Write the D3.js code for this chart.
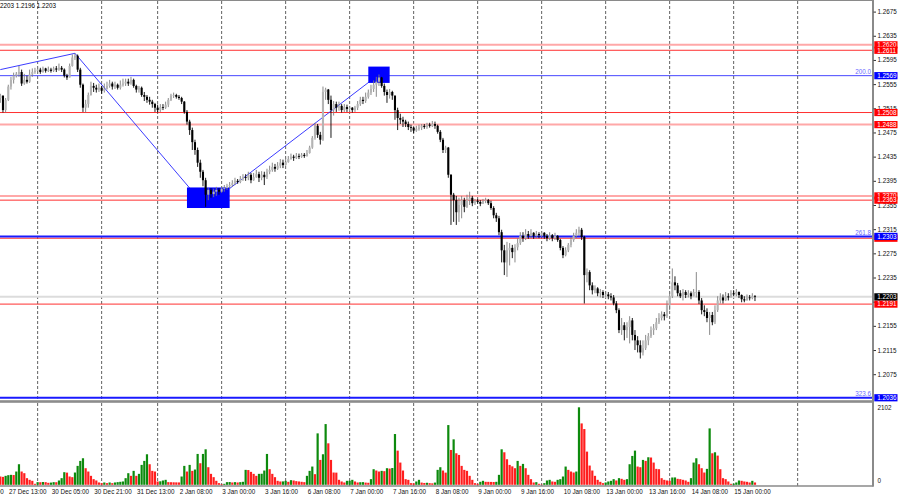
<!DOCTYPE html>
<html><head><meta charset="utf-8">
<script src="https://cdn.jsdelivr.net/npm/d3@7"></script>
<style>
html,body{margin:0;padding:0;background:#fff;}
svg{display:block;font-family:"Liberation Sans",Arial,sans-serif;}
</style></head><body>
<svg id="c" width="900" height="500"></svg>
<script>
// ---------------- DATA (EURUSD H1, prices = 1.2 + pips/10000) ----------------
const PRICE_BASE = 1.2, PIP = 0.0001;
const FIRST_INDEX = -3;          // bar index of the first candle (27 Dec 13:00 = 0)
const firstOpenPips = 532;
const highPips = [539,536,532,
554,567,574,575,585,579,572,569,579,581,
582,584,582,584,582,584,582,584,585,589,
585,581,572,589,604,606,604,582,556,529,
541,559,557,554,556,552,556,559,562,559,
559,556,561,564,564,564,567,564,554,552,
551,542,537,534,529,524,521,522,522,526,
532,539,541,539,537,534,527,512,496,483,
463,450,430,413,400,383,383,382,385,383,
386,388,390,393,396,400,398,403,406,406,
410,408,408,413,410,411,410,415,420,425,
423,426,431,430,433,436,440,438,441,440,
441,441,446,453,469,491,489,476,551,549,
547,536,527,526,526,522,522,521,519,517,
519,527,534,534,541,546,554,561,567,571,
567,556,546,547,544,536,516,506,501,496,
493,488,484,486,488,489,489,491,491,494,
493,488,479,466,453,451,406,375,370,367,
370,367,372,377,370,365,365,363,365,367,
365,362,353,342,337,314,289,294,292,289,
290,300,310,310,315,312,315,310,312,310,
312,310,307,310,307,309,305,299,287,285,
292,302,309,315,319,317,304,250,247,227,
222,219,216,214,212,211,209,206,196,184,
168,161,161,171,168,148,138,131,131,140,
143,154,158,168,176,179,178,197,211,250,
237,226,214,216,214,214,212,216,244,214,
201,189,184,178,178,189,204,209,207,211,
209,214,214,216,212,207,204,207,206,209,
206];
const lowPips = [524,508,508,
527,546,556,566,567,552,554,556,557,567,
572,572,572,574,574,575,574,575,575,577,
575,566,562,566,584,595,575,549,509,508,
516,536,542,541,542,539,541,546,549,546,
547,546,546,551,552,552,554,549,541,541,
534,527,524,521,516,509,508,509,512,514,
517,527,532,531,529,522,506,488,471,446,
438,418,400,386,352,363,367,368,370,372,
375,377,380,382,385,388,390,391,395,395,
396,391,395,400,393,396,388,398,406,410,
410,413,416,416,420,425,430,428,431,431,
433,433,435,440,448,463,466,455,461,529,
522,466,503,509,511,508,509,509,509,508,
509,512,519,522,524,531,537,542,534,552,
549,536,524,531,529,496,479,489,484,484,
479,476,474,476,478,479,481,481,483,484,
481,473,459,441,441,400,322,327,322,327,
333,343,350,355,353,355,357,353,357,358,
355,347,333,327,305,260,239,236,255,267,
260,280,289,294,297,299,300,299,300,300,
302,299,295,297,295,297,294,280,267,270,
277,285,294,300,304,297,192,227,214,207,
209,204,202,201,202,199,197,189,176,143,
140,131,135,126,131,115,111,101,106,115,
123,135,140,148,158,164,164,168,181,201,
214,204,201,197,201,202,199,204,202,191,
174,171,161,140,156,158,178,192,192,196,
197,202,204,204,201,194,194,197,197,199,
196];
const closePips = [536,512,529,
551,562,569,572,575,556,562,559,571,575,
577,579,575,581,577,579,577,581,579,582,
579,569,566,585,599,602,579,554,516,522,
537,552,549,546,549,544,547,552,556,551,
554,549,554,556,559,556,562,552,546,549,
537,534,529,526,522,516,512,517,516,521,
529,536,537,534,532,526,509,493,479,459,
446,425,410,396,372,380,373,377,380,377,
382,383,386,388,391,395,393,398,401,400,
405,396,401,406,400,405,401,410,413,418,
415,420,425,421,426,431,435,433,436,435,
438,436,441,450,466,486,471,463,542,546,
529,512,522,516,519,512,517,514,516,512,
516,522,529,527,534,541,547,554,559,566,
552,542,537,542,536,512,499,496,493,489,
484,483,478,481,483,486,484,488,486,489,
486,476,463,446,450,405,372,363,343,355,
363,352,363,367,358,362,360,357,362,363,
358,350,338,333,310,280,260,280,284,277,
285,292,304,300,307,304,309,304,307,305,
309,304,300,305,300,304,297,284,272,280,
289,297,304,309,314,302,239,244,222,214,
217,209,211,206,207,204,202,192,181,148,
156,148,153,164,140,131,123,111,118,131,
138,148,151,161,168,174,171,189,204,227,
222,209,204,211,206,209,204,211,211,197,
181,178,168,173,161,181,197,202,197,204,
202,209,207,211,206,199,197,202,201,204,
203];
const volumes = [225,215,243,
261,270,265,360,558,360,315,180,135,108,
27,72,70,75,72,54,60,72,70,117,
180,342,330,225,207,333,513,648,720,450,
360,243,153,117,63,45,63,45,63,45,
63,72,81,90,180,315,243,378,243,297,
540,648,828,558,378,360,90,95,117,135,
72,70,68,66,64,225,513,360,540,378,
414,837,585,837,963,477,297,207,108,45,
18,27,72,75,63,72,63,72,81,405,
400,351,297,243,297,300,387,837,423,297,
207,108,90,92,108,81,126,117,99,90,
81,72,243,378,495,288,1395,675,828,1647,
1125,675,333,330,135,90,63,108,110,135,
90,63,70,72,60,55,153,423,387,360,
378,370,450,440,455,1377,927,603,387,153,
135,45,40,90,135,60,50,55,45,40,
60,405,477,387,330,1620,945,1233,855,810,
513,405,378,243,135,45,27,81,108,81,
80,78,76,81,270,963,882,693,540,500,
450,648,513,567,450,270,153,63,72,27,
9,45,117,135,90,81,135,153,225,495,
405,360,333,360,2102,1665,1512,900,522,387,
243,135,81,45,63,90,108,153,117,180,
162,135,153,558,783,927,495,477,675,648,
747,740,603,432,423,180,135,117,108,198,
200,162,153,135,117,81,180,603,720,558,
450,333,432,1530,855,882,792,423,180,153,
90,27,30,63,117,108,90,81,63,108,
63];
const volumeMax = 2102;

const timeLabels = ["26 Dec 21:00","27 Dec 13:00","30 Dec 05:00","30 Dec 21:00","31 Dec 13:00",
  "2 Jan 08:00","3 Jan 00:00","3 Jan 16:00","6 Jan 08:00","7 Jan 00:00","7 Jan 16:00",
  "8 Jan 08:00","9 Jan 00:00","9 Jan 16:00","10 Jan 08:00","13 Jan 00:00","13 Jan 16:00",
  "14 Jan 08:00","15 Jan 00:00"];
const timeLabelFirstIndex = -16, timeLabelStep = 16;
const dayStartIndices = [11,35,56,80,104,128,152,176,200,224,248,272,296];

const priceTicks = [1.2675,1.2635,1.2595,1.2555,1.2515,1.2475,1.2435,1.2395,1.2355,
  1.2315,1.2275,1.2235,1.2195,1.2155,1.2115,1.2075];

const pinkLevels = [1.2620, 1.2488, 1.2370];
const redLevels  = [1.2611, 1.2508, 1.2363, 1.2300, 1.2191];
const fiboLevels = [1.2569, 1.2303, 1.2036];
const fiboNames  = ["200.0", "261.8", "323.6"];
const fiboWidths = [1, 2, 2];
const currentPrice = 1.2203;
const headerText = "1.2203 1.2196 1.2203";

const zigzagIndex = [-3, 25, 74, 139];
const zigzagPrice = [1.2579, 1.2606, 1.2352, 1.2571];
const boxIndex1 = [67, 135], boxIndex2 = [83, 143];
const boxPriceTop = [1.2384, 1.2584], boxPriceBottom = [1.2350, 1.2557];

// ---------------- CHART ----------------
const toPrice = p => PRICE_BASE + p * PIP;
const svg = d3.select("#c");
const font = 6.3;
const PLOT_R = 872.5;

const x = d3.scaleLinear().domain([0, 296]).range([8.3, 797.65]);
const y = d3.scaleLinear().domain([1.2075, 1.2675]).range([374.2, 11.6]);
const yv = d3.scaleLinear().domain([0, volumeMax]).range([484.8, 407.3]);

const defs = svg.append("defs");
defs.append("clipPath").attr("id","mainClip").append("rect")
  .attr("x",0).attr("y",1).attr("width",PLOT_R).attr("height",399);
defs.append("clipPath").attr("id","volClip").append("rect")
  .attr("x",0).attr("y",403).attr("width",PLOT_R).attr("height",83);

const main = svg.append("g").attr("clip-path","url(#mainClip)");
const vol = svg.append("g").attr("clip-path","url(#volClip)");

// vertical dashed grid
[[main,1,400],[vol,403,486]].forEach(([g,y0,y1]) => {
  g.selectAll(null).data(dayStartIndices).join("line")
    .attr("x1",d=>x(d)).attr("x2",d=>x(d)).attr("y1",y0).attr("y2",y1)
    .attr("stroke","#3a3a3a").attr("stroke-width",0.8).attr("stroke-dasharray","3,2");
});

// horizontal levels
main.append("line").attr("x1",0).attr("x2",PLOT_R)
  .attr("y1",y(currentPrice)).attr("y2",y(currentPrice))
  .attr("stroke","#dcdcdc").attr("stroke-width",2);
main.selectAll(null).data(pinkLevels).join("line")
  .attr("x1",0).attr("x2",PLOT_R).attr("y1",d=>y(d)).attr("y2",d=>y(d))
  .attr("stroke","#ffa8a8").attr("stroke-width",2);
main.selectAll(null).data(redLevels).join("line")
  .attr("x1",0).attr("x2",PLOT_R).attr("y1",d=>y(d)).attr("y2",d=>y(d))
  .attr("stroke","#ff3030").attr("stroke-width",1);
main.selectAll(null).data(fiboLevels).join("line")
  .attr("x1",0).attr("x2",PLOT_R).attr("y1",d=>y(d)).attr("y2",d=>y(d))
  .attr("stroke",(d,i)=> i===0 ? "#4646ff" : "#1a1aff").attr("stroke-width",(d,i)=>fiboWidths[i]);
main.selectAll(null).data(fiboLevels).join("text")
  .attr("x",871).attr("y",d=>y(d)-1.8).attr("text-anchor","end")
  .attr("font-size",font).attr("fill","#6a6aff").text((d,i)=>fiboNames[i]);

// zigzag
main.append("path")
  .attr("d", d3.line()(zigzagIndex.map((d,i)=>[x(d), y(zigzagPrice[i])])))
  .attr("fill","none").attr("stroke","#3c3cff").attr("stroke-width",1);

// rectangles
main.selectAll(null).data(boxIndex1).join("rect")
  .attr("x",(d)=>x(d)).attr("width",(d,i)=>x(boxIndex2[i])-x(d))
  .attr("y",(d,i)=>y(boxPriceTop[i])).attr("height",(d,i)=>y(boxPriceBottom[i])-y(boxPriceTop[i]))
  .attr("fill","#0000ff");

// candles
const bars = closePips.map((c,k) => {
  const o = k===0 ? firstOpenPips : closePips[k-1];
  return {i: FIRST_INDEX + k, o: toPrice(o), c: toPrice(c),
          h: toPrice(Math.max(highPips[k], o, c)), l: toPrice(Math.min(lowPips[k], o, c))};
});
const cg = main.append("g");
cg.selectAll(null).data(bars).join("line")
  .attr("x1",d=>x(d.i)).attr("x2",d=>x(d.i)).attr("y1",d=>y(d.h)).attr("y2",d=>y(d.l))
  .attr("stroke",d=>d.c>=d.o ? "#7c7c7c" : "#000").attr("stroke-width",0.9);
cg.selectAll(null).data(bars).join("rect")
  .attr("x",d=>x(d.i)-1.05).attr("width",2.1)
  .attr("y",d=>y(Math.max(d.o,d.c)))
  .attr("height",d=>Math.max(0.8, Math.abs(y(d.o)-y(d.c))))
  .attr("fill",d=>d.c>=d.o ? "#b4b4b4" : "#000");

// volumes
vol.selectAll(null).data(volumes).join("rect")
  .attr("x",(d,k)=>x(FIRST_INDEX+k)-1.1).attr("width",2.2)
  .attr("y",d=>yv(d)).attr("height",d=>yv(0)-yv(d))
  .attr("fill",(d,k)=> k>0 && d>volumes[k-1] ? "#0d8a0d" : "#ff1e1e");

// frames
svg.append("line").attr("x1",0).attr("x2",PLOT_R+1).attr("y1",0.5).attr("y2",0.5)
  .attr("stroke","#8a8a8a").attr("stroke-width",1);
svg.append("rect").attr("x",0).attr("y",400.2).attr("width",PLOT_R+1).attr("height",2.6).attr("fill","#8c8c8c");
svg.append("line").attr("x1",0).attr("x2",PLOT_R+1).attr("y1",486).attr("y2",486)
  .attr("stroke","#8a8a8a").attr("stroke-width",1.4);
svg.append("line").attr("x1",PLOT_R+0.5).attr("x2",PLOT_R+0.5).attr("y1",0).attr("y2",486.5)
  .attr("stroke","#8a8a8a").attr("stroke-width",2);

// header text
svg.append("text").attr("x",-5.2).attr("y",8.4).attr("font-size",font).attr("fill","#000").text(headerText);

// price axis
const pa = svg.append("g").attr("transform",`translate(${PLOT_R+1},0)`)
  .call(d3.axisRight(y).tickValues(priceTicks).tickSize(2.5).tickPadding(1.6).tickFormat(d3.format(".4f")));
pa.select(".domain").remove();
pa.selectAll("line").attr("stroke","#333");
pa.selectAll("text").attr("font-size",font).attr("fill","#111").attr("font-family","Liberation Sans, Arial, sans-serif");

// price tags
const tags = svg.append("g");
function tag(price, fill){
  const yy = y(price);
  tags.append("rect").attr("x",874.3).attr("y",yy-3.6).attr("width",23.2).attr("height",7.2).attr("fill",fill);
  tags.append("text").attr("x",877.2).attr("y",yy).attr("dy","0.36em").attr("font-size",font)
    .attr("fill","#fff").text(d3.format(".4f")(price));
}
[...pinkLevels, ...redLevels].sort((a,b)=>b-a).forEach(p=>tag(p,"#ff0000"));
fiboLevels.forEach(p=>tag(p,"#0000ff"));
tag(currentPrice,"#000");

// volume scale labels
const va = svg.append("g").attr("transform",`translate(${PLOT_R+1},0)`);
va.selectAll(null).data([volumeMax, 0]).join("text")
  .attr("x",4).attr("y",d=> d===0 ? yv(0)-3.6 : yv(d)).attr("dy","0.36em")
  .attr("font-size",font).attr("fill","#111").text(d=>d);

// time axis
const tIdx = timeLabels.map((d,k)=>timeLabelFirstIndex + k*timeLabelStep);
const ta = svg.append("g").attr("transform","translate(0,486)")
  .call(d3.axisBottom(x).tickValues(tIdx).tickSize(0).tickPadding(3.3).tickFormat((d,k)=>timeLabels[k]));
ta.select(".domain").remove();
ta.selectAll("text").attr("text-anchor","start").attr("dx","0.2")
  .attr("font-size",font).attr("fill","#111").attr("font-family","Liberation Sans, Arial, sans-serif");
</script>
</body></html>
